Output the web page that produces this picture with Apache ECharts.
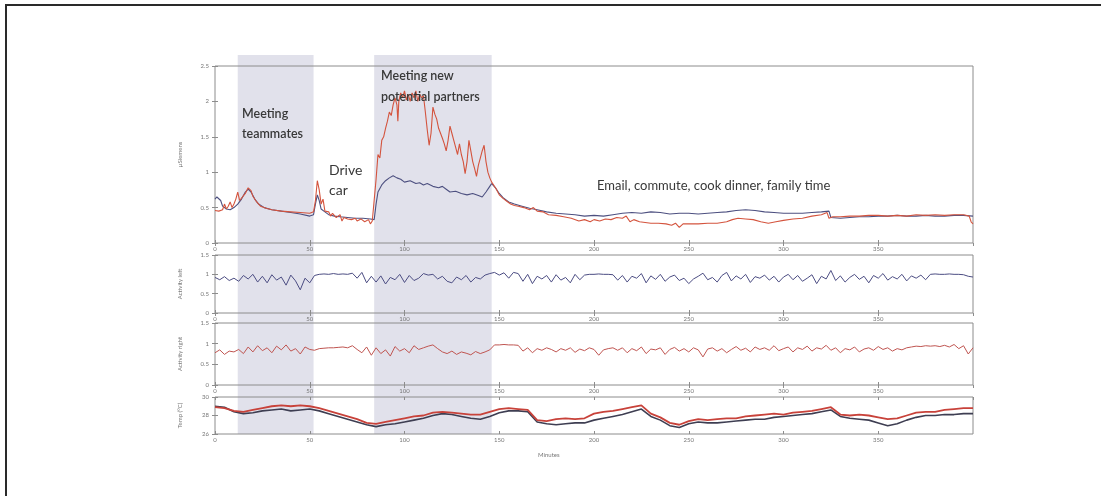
<!DOCTYPE html>
<html>
<head>
<meta charset="utf-8">
<script src="https://cdn.jsdelivr.net/npm/echarts@6/dist/echarts.min.js"></script>
<style>
  html, body { margin: 0; padding: 0; background: #fff; }
  #chart { position: absolute; left: 0; top: 0; width: 1101px; height: 496px; }
  #frame { position: absolute; left: 5px; top: 4px; right: 0; bottom: 0; border-top: 2px solid #2a2a2a; border-left: 2px solid #2a2a2a; pointer-events: none; }
</style>
</head>
<body>
<div id="chart"></div>
<div id="frame"></div>
<script>
// minutes shaded as meetings
const shadeStarts = [12, 84]
const shadeEnds = [52, 146]

// panel 1: skin conductance, two wrists
const edaRedMin = [0, 2, 4, 5, 6, 7, 8, 9, 10, 11, 12, 13, 14, 16, 17.5, 19, 20, 22, 24, 27, 30, 35, 40, 45, 50, 52, 53, 54, 55, 56, 57, 58, 60, 61, 62, 64, 66, 67, 68, 70, 72, 74, 75, 77, 79, 81, 82, 83, 84, 85, 86, 87, 88, 89, 90, 91, 92, 93, 94, 95, 96, 96.5, 97, 98, 99, 100, 101, 102, 103, 104, 105, 106, 107, 108, 109, 110, 111, 112, 113, 114, 115, 116, 117, 118, 119, 120, 121, 122, 123, 124, 125, 126, 127, 128, 129, 130, 131, 132, 133, 134, 135, 136, 137, 138, 139, 140, 141, 142, 143, 144, 145, 146, 148, 150, 152, 154, 156, 158, 160, 163, 166, 168, 170, 173, 176, 180, 184, 188, 192, 195, 198, 200, 203, 206, 209, 212, 215, 217, 219, 221, 224, 227, 230, 234, 238, 241, 243, 245, 247, 250, 255, 260, 265, 270, 273, 276, 280, 284, 288, 292, 296, 300, 305, 310, 315, 320, 323, 324, 326, 330, 335, 340, 345, 350, 355, 360, 365, 370, 375, 380, 385, 390, 395, 398, 399, 400]
const edaRed = [0.46, 0.45, 0.47, 0.55, 0.48, 0.52, 0.58, 0.50, 0.55, 0.62, 0.72, 0.60, 0.58, 0.70, 0.78, 0.74, 0.66, 0.58, 0.52, 0.49, 0.47, 0.45, 0.44, 0.43, 0.42, 0.44, 0.60, 0.88, 0.75, 0.55, 0.62, 0.45, 0.44, 0.38, 0.42, 0.36, 0.40, 0.31, 0.36, 0.34, 0.33, 0.35, 0.31, 0.34, 0.30, 0.33, 0.27, 0.31, 0.30, 0.90, 1.25, 1.20, 1.45, 1.50, 1.62, 1.72, 1.85, 1.80, 1.95, 2.05, 1.95, 1.72, 2.00, 2.12, 2.05, 2.15, 2.02, 2.10, 2.00, 2.12, 2.05, 2.15, 2.00, 2.10, 2.05, 2.08, 1.85, 1.60, 1.38, 1.55, 1.92, 1.82, 1.75, 1.62, 1.55, 1.48, 1.40, 1.30, 1.45, 1.65, 1.55, 1.45, 1.35, 1.25, 1.40, 1.25, 1.15, 0.98, 1.15, 1.45, 1.30, 1.15, 1.05, 0.94, 1.10, 1.20, 1.30, 1.38, 1.15, 1.00, 0.92, 0.86, 0.78, 0.68, 0.63, 0.59, 0.55, 0.53, 0.52, 0.50, 0.47, 0.50, 0.45, 0.44, 0.40, 0.39, 0.37, 0.35, 0.31, 0.33, 0.30, 0.33, 0.31, 0.34, 0.33, 0.36, 0.35, 0.38, 0.30, 0.33, 0.30, 0.29, 0.28, 0.28, 0.27, 0.25, 0.28, 0.22, 0.27, 0.27, 0.27, 0.28, 0.28, 0.30, 0.33, 0.35, 0.34, 0.33, 0.30, 0.28, 0.30, 0.32, 0.34, 0.35, 0.38, 0.40, 0.43, 0.35, 0.37, 0.37, 0.38, 0.38, 0.39, 0.39, 0.38, 0.39, 0.38, 0.40, 0.39, 0.40, 0.39, 0.40, 0.40, 0.38, 0.30, 0.27]
const edaBlueMin = [0, 1, 2, 3, 4, 5, 6, 8, 10, 12, 14, 16, 17.5, 19, 21, 23, 26, 30, 35, 40, 45, 50, 52, 53, 54, 55, 56, 58, 60, 63, 66, 70, 74, 78, 82, 84, 85, 86, 88, 90, 92, 94, 96, 98, 100, 103, 106, 108, 110, 112, 115, 118, 120, 122, 124, 127, 130, 133, 136, 139, 141, 143, 145, 146, 148, 150, 152, 155, 158, 162, 166, 170, 175, 180, 185, 190, 195, 200, 205, 210, 215, 220, 225, 230, 235, 240, 245, 250, 255, 260, 265, 270, 275, 280, 285, 290, 295, 300, 305, 310, 315, 320, 324, 325, 330, 335, 340, 345, 350, 355, 360, 365, 370, 375, 380, 385, 390, 395, 400]
const edaBlue = [0.62, 0.65, 0.66, 0.60, 0.52, 0.50, 0.48, 0.47, 0.50, 0.55, 0.62, 0.72, 0.76, 0.72, 0.62, 0.55, 0.50, 0.47, 0.45, 0.43, 0.41, 0.38, 0.40, 0.55, 0.68, 0.60, 0.48, 0.44, 0.40, 0.38, 0.37, 0.36, 0.35, 0.35, 0.34, 0.33, 0.55, 0.72, 0.82, 0.88, 0.92, 0.95, 0.92, 0.90, 0.86, 0.88, 0.84, 0.85, 0.82, 0.84, 0.80, 0.78, 0.80, 0.76, 0.72, 0.73, 0.70, 0.68, 0.70, 0.67, 0.65, 0.72, 0.80, 0.84, 0.78, 0.70, 0.64, 0.58, 0.55, 0.52, 0.49, 0.47, 0.44, 0.42, 0.41, 0.40, 0.38, 0.39, 0.38, 0.40, 0.42, 0.43, 0.42, 0.44, 0.43, 0.41, 0.42, 0.42, 0.41, 0.42, 0.43, 0.44, 0.46, 0.47, 0.46, 0.44, 0.43, 0.42, 0.42, 0.42, 0.43, 0.44, 0.45, 0.36, 0.35, 0.36, 0.37, 0.37, 0.38, 0.38, 0.39, 0.38, 0.38, 0.39, 0.38, 0.38, 0.39, 0.39, 0.38]

// panels 2 and 3: activity, one value every 2.5 minutes
const activityStep = 2.5
const activityLeft = [0.92, 0.86, 0.94, 0.84, 0.9,
  0.82, 0.97, 0.88, 1.0, 0.8, 0.95, 0.78, 0.99, 0.85, 0.93, 0.72, 0.98, 0.83, 0.6, 0.9, 0.78,
  0.97, 1.0, 1.01, 1.0, 1.02, 1.0, 1.01, 1.0, 1.03,
  0.9, 1.05, 0.78, 0.95,
  0.8, 0.96, 0.75, 0.92, 0.86, 1.0, 0.79, 0.97, 0.84, 0.9, 1.02, 0.98, 1.0, 0.88, 0.95, 0.82, 0.78, 0.93, 0.86, 0.97, 0.8, 0.92, 0.88, 0.98, 1.02,
  1.05, 0.98, 1.04, 0.9, 1.05, 1.02,
  0.82, 1.0, 0.76, 0.95, 0.88, 0.97, 0.8, 0.99, 0.85, 0.92, 0.78, 1.0, 0.86, 0.98,
  1.0, 1.0, 1.01, 1.0, 1.0, 0.99,
  0.85, 0.97, 0.8, 0.95, 0.9, 1.02, 0.78, 0.96, 0.87, 1.0,
  0.82, 0.93, 0.98, 0.84, 0.9, 0.76, 0.88, 0.95, 1.03, 0.86,
  0.92, 0.8, 0.97, 1.05, 0.83, 0.96, 0.88, 1.0, 0.79, 0.94,
  0.9, 0.98, 0.85, 0.95, 0.8, 0.93, 1.0, 0.86, 0.97, 0.82,
  0.9, 0.99, 0.76, 0.95, 0.88, 1.1, 0.84, 0.96, 0.8, 0.92,
  1.0, 0.87, 0.95, 0.78, 0.97, 0.9, 1.02, 0.85, 0.94, 0.88,
  1.0, 0.83, 0.96, 0.9, 0.98, 0.86,
  1.0, 1.01, 1.0, 1.0, 1.01, 1.0, 1.0, 0.99, 0.95, 0.93]
const activityRight = [0.78, 0.85, 0.74, 0.82, 0.8,
  0.86, 0.76, 0.92, 0.8, 0.95, 0.83, 0.9, 0.78, 0.94, 0.85, 0.97, 0.82, 0.88, 0.75, 0.92, 0.86,
  0.84, 0.88, 0.89, 0.9, 0.9, 0.91, 0.92, 0.9, 0.95,
  0.86, 0.78, 0.92, 0.72,
  0.9, 0.76, 0.85, 0.7, 0.93, 0.82, 0.88, 0.78, 0.95, 0.86, 0.9, 0.94, 0.97, 0.88, 0.8, 0.76, 0.82, 0.74, 0.8, 0.77, 0.73, 0.81, 0.76, 0.8, 0.85,
  0.97, 0.97, 0.98, 0.97, 0.97, 0.96,
  0.82, 0.9, 0.78, 0.88, 0.84, 0.9, 0.86, 0.8, 0.88, 0.84, 0.9, 0.79, 0.87, 0.83,
  0.9, 0.86, 0.72, 0.85, 0.88, 0.9,
  0.84, 0.9, 0.78, 0.88, 0.83, 0.92, 0.76, 0.87, 0.85, 0.9,
  0.74, 0.86, 0.91, 0.82, 0.88, 0.8, 0.9, 0.85, 0.68, 0.87,
  0.9, 0.82, 0.88, 0.78, 0.86, 0.93, 0.84, 0.89, 0.8, 0.92,
  0.86, 0.9, 0.84, 0.95, 0.83, 0.88, 0.92, 0.8, 0.9, 0.86,
  0.94, 0.82, 0.9, 0.87, 0.96, 0.84, 0.9, 0.78, 0.88, 0.85,
  0.92, 0.8, 0.87, 0.9, 0.84, 0.93, 0.86, 0.9, 0.82, 0.88,
  0.85, 0.9, 0.92, 0.94, 0.93, 0.95,
  0.94, 0.95, 0.93, 0.96, 0.92, 0.98, 0.88, 0.95, 0.75, 0.9]

// panel 4: temperature, one value every 5 minutes
const tempStep = 5
const tempRed = [28.9, 28.8, 28.5, 28.4, 28.6, 28.8, 29.0, 29.1, 29.0, 29.1, 29.0, 28.8, 28.5, 28.2, 27.9, 27.6, 27.2, 27.1, 27.3, 27.5, 27.7, 27.9, 28.0, 28.3, 28.4, 28.3, 28.2, 28.1, 28.1, 28.4, 28.7, 28.8, 28.7, 28.6, 27.5, 27.4, 27.6, 27.7, 27.6, 27.7, 28.2, 28.4, 28.5, 28.7, 28.9, 29.1, 28.2, 27.8, 27.2, 27.0, 27.4, 27.6, 27.5, 27.6, 27.7, 27.7, 27.9, 28.0, 28.1, 28.2, 28.1, 28.3, 28.4, 28.5, 28.7, 28.9, 28.1, 28.0, 28.1, 28.0, 27.8, 27.6, 27.7, 28.0, 28.3, 28.4, 28.4, 28.6, 28.7, 28.8, 28.8]
const tempDark = [29.0, 28.9, 28.4, 28.2, 28.3, 28.5, 28.6, 28.7, 28.5, 28.6, 28.7, 28.5, 28.2, 27.9, 27.6, 27.3, 27.0, 26.8, 27.0, 27.1, 27.3, 27.5, 27.7, 28.0, 28.2, 28.1, 27.9, 27.7, 27.6, 27.9, 28.3, 28.5, 28.5, 28.4, 27.3, 27.1, 27.0, 27.1, 27.2, 27.2, 27.5, 27.7, 27.9, 28.1, 28.4, 28.7, 27.9, 27.5, 26.9, 26.7, 27.1, 27.3, 27.2, 27.2, 27.3, 27.4, 27.5, 27.6, 27.6, 27.8, 27.9, 28.0, 28.1, 28.2, 28.4, 28.6, 27.9, 27.7, 27.6, 27.5, 27.2, 26.9, 27.1, 27.5, 27.8, 28.0, 28.0, 28.1, 28.1, 28.2, 28.2]

const panelNames = ['µSiemens', 'Activity left', 'Activity right', 'Temp (°C)']
const panelMin = [0, 0, 0, 26]
const panelMax = [2.5, 1.5, 1.5, 30]
const panelStep = [0.5, 0.5, 0.5, 2]

const zip = (xs, ys) => ys.map((y, i) => [xs[i], y])
const stepped = (step, ys) => ys.map((y, i) => [i * step, y])

const chart = echarts.init(document.getElementById('chart'))

const font = 'Lato, "Open Sans", sans-serif'
const left = 215
const width = 758
const grid = [
  { left, width, top: 66, height: 177 },
  { left, width, top: 255, height: 58 },
  { left, width, top: 323, height: 62 },
  { left, width, top: 397, height: 37 },
  { left, width, top: 55, height: 379 },
].map((g, i) => ({ ...g, show: i < 4, borderColor: '#8c8c8c', borderWidth: 1, z: 3 }))

const xAxis = []
const yAxis = []
for (let i = 0; i < 4; i++) {
  const tick = { inside: true, length: 3, lineStyle: { color: '#8c8c8c' } }
  xAxis.push({
    type: 'value', gridIndex: i, min: 0, max: 400, interval: 50, z: 4,
    axisLine: { show: false }, axisTick: tick, splitLine: { show: false },
    axisLabel: { fontSize: 6, color: '#777', margin: 3, showMaxLabel: false, fontFamily: font },
  })
  xAxis.push({
    type: 'value', gridIndex: i, position: 'top', min: 0, max: 400, interval: 50, z: 4,
    axisLine: { show: false }, axisTick: tick, splitLine: { show: false }, axisLabel: { show: false },
  })
  yAxis.push({
    type: 'value', gridIndex: i, min: panelMin[i], max: panelMax[i], interval: panelStep[i], z: 4,
    name: panelNames[i], nameLocation: 'middle', nameGap: 32, nameRotate: 90,
    nameTextStyle: { fontSize: 6, color: '#777', fontFamily: font },
    axisLine: { show: false }, axisTick: tick, splitLine: { show: false },
    axisLabel: { fontSize: 6, color: '#777', margin: 6, fontFamily: font },
  })
  yAxis.push({
    type: 'value', gridIndex: i, position: 'right', min: panelMin[i], max: panelMax[i], interval: panelStep[i], z: 4,
    axisLine: { show: false }, axisTick: tick, splitLine: { show: false }, axisLabel: { show: false },
  })
}
// hidden axes of the full-height grid that holds the meeting shading
xAxis.push({ type: 'value', gridIndex: 4, min: 0, max: 400, show: false })
yAxis.push({ type: 'value', gridIndex: 4, min: 0, max: 1, show: false })

const line = (name, data, axis, color, w) => ({
  name, type: 'line', data, xAxisIndex: axis * 2, yAxisIndex: axis * 2,
  showSymbol: false, symbol: 'none', silent: true, animation: false, z: 5,
  lineStyle: { color, width: w },
})

const note = (x, y, text, font, lineHeight) => ({
  type: 'text', left: x, top: y, z: 100, zlevel: 1,
  style: { text, font, fill: '#383838', lineHeight },
})

chart.setOption({
  animation: false,
  grid,
  xAxis,
  yAxis,
  series: [
    {
      type: 'line', xAxisIndex: 8, yAxisIndex: 8, data: [[0, 0], [400, 0]], z: 0,
      showSymbol: false, lineStyle: { opacity: 0 }, silent: true,
      markArea: {
        silent: true,
        itemStyle: { color: 'rgba(196,196,216,0.5)' },
        data: shadeStarts.map((s, i) => [{ xAxis: s }, { xAxis: shadeEnds[i] }]),
      },
    },
    line('left EDA', zip(edaBlueMin, edaBlue), 0, '#4d5080', 1.1),
    line('right EDA', zip(edaRedMin, edaRed), 0, '#d4543e', 1.1),
    line('Activity left', stepped(activityStep, activityLeft), 1, '#4b4c82', 1),
    line('Activity right', stepped(activityStep, activityRight), 2, '#bf5450', 1),
    line('Temp left', stepped(tempStep, tempDark), 3, '#3e3e52', 1.6),
    line('Temp right', stepped(tempStep, tempRed), 3, '#c8423a', 1.8),
  ],
  graphic: [
    note(242, 104, 'Meeting\nteammates', '600 12.5px ' + font, 20),
    note(329, 160, 'Drive\ncar', '14px ' + font, 20),
    note(381, 65, 'Meeting new\npotential partners', '600 12.5px ' + font, 21),
    note(597, 178, 'Email, commute, cook dinner, family time', '13px ' + font, 16),
    { type: 'text', left: 538, top: 452, style: { text: 'Minutes', font: '6px ' + font, fill: '#777' } },
  ],
})
</script>
</body>
</html>
